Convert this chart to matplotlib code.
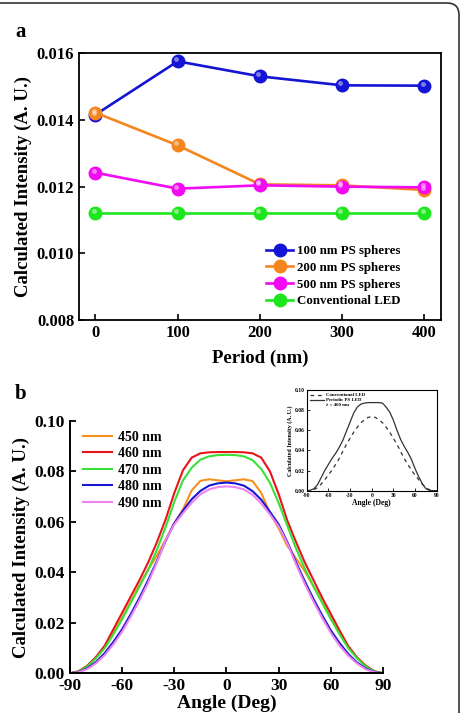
import numpy as np
import matplotlib
matplotlib.use("Agg")
import matplotlib.pyplot as plt
import matplotlib.patches as mpatches
from matplotlib.transforms import offset_copy
from matplotlib.lines import Line2D

plt.rcParams['font.family'] = ['Liberation Serif', 'DejaVu Serif']
plt.rcParams['font.weight'] = 'bold'
plt.rcParams['axes.labelweight'] = 'bold'
plt.rcParams['axes.unicode_minus'] = False

#%% data, panel a
period = [0, 100, 200, 300, 400]
ps100 = [0.01416, 0.01576, 0.01531, 0.01504, 0.01503]
ps200 = [0.01422, 0.01324, 0.01207, 0.01204, 0.01190]
ps500 = [0.01242, 0.01194, 0.01204, 0.01200, 0.01198]
conv = [0.01120, 0.01120, 0.01120, 0.01120, 0.01120]

#%% data, panel b (read every 5 deg)
angle = [-90, -85, -80, -75, -70, -65, -60, -55, -50, -45, -40, -35, -30, -25, -20, -15, -10, -5,
         0, 5, 10, 15, 20, 25, 30, 35, 40, 45, 50, 55, 60, 65, 70, 75, 80, 85, 90]
nm450 = [0, 0.0008, 0.003, 0.0063, 0.0105, 0.016, 0.022, 0.0285, 0.035, 0.0412, 0.0466, 0.053, 0.0595,
         0.065, 0.0725, 0.0763, 0.0769, 0.0765, 0.0761, 0.0765, 0.0769, 0.0762, 0.0715, 0.0635,
         0.0575, 0.0505, 0.0455, 0.0405, 0.0345, 0.0282, 0.0218, 0.016, 0.0105, 0.0063, 0.003, 0.0008, 0]
nm460 = [0, 0.0008, 0.003, 0.0065, 0.011, 0.0175, 0.024, 0.0305, 0.037, 0.044, 0.052, 0.061, 0.0715,
         0.0805, 0.0855, 0.0872, 0.0876, 0.0877, 0.0877, 0.0877, 0.0876, 0.0872, 0.0855, 0.0800,
         0.0710, 0.0605, 0.0520, 0.0440, 0.0370, 0.0300, 0.0235, 0.0170, 0.0108, 0.0063, 0.003, 0.0008, 0]
nm470 = [0, 0.0007, 0.0027, 0.006, 0.010, 0.0155, 0.0215, 0.028, 0.0345, 0.041, 0.049, 0.058, 0.068,
         0.0765, 0.0815, 0.0847, 0.0860, 0.0865, 0.0866, 0.0865, 0.0860, 0.0845, 0.0810, 0.0755,
         0.0675, 0.0585, 0.0495, 0.0415, 0.0345, 0.0280, 0.0215, 0.0155, 0.010, 0.006, 0.0027, 0.0007, 0]
nm480 = [0, 0.0005, 0.002, 0.0045, 0.008, 0.0125, 0.0175, 0.0235, 0.030, 0.037, 0.0445, 0.0525, 0.0595,
         0.0645, 0.069, 0.0723, 0.0744, 0.0753, 0.0756, 0.0753, 0.0744, 0.0722, 0.0688, 0.0640,
         0.0590, 0.0520, 0.0440, 0.0365, 0.0295, 0.0230, 0.0170, 0.0120, 0.0077, 0.0043, 0.0019, 0.0005, 0]
nm490 = [0, 0.0004, 0.0017, 0.004, 0.0072, 0.0115, 0.0165, 0.0225, 0.029, 0.036, 0.044, 0.0528, 0.059,
         0.0635, 0.0676, 0.0710, 0.0729, 0.0738, 0.0741, 0.0738, 0.0729, 0.0708, 0.0673, 0.0630,
         0.0582, 0.0515, 0.0432, 0.0355, 0.0285, 0.0220, 0.0160, 0.0110, 0.0070, 0.0039, 0.0016, 0.0004, 0]

#%% inset data
conv_led = [0, 0, 0.001, 0.003, 0.0065, 0.011, 0.0155, 0.0205, 0.026, 0.032, 0.039, 0.046, 0.052,
            0.058, 0.063, 0.0675, 0.0705, 0.0728, 0.0735, 0.0728, 0.0705, 0.0675, 0.063, 0.058,
            0.052, 0.046, 0.039, 0.032, 0.026, 0.0205, 0.0155, 0.011, 0.0065, 0.003, 0.001, 0, 0]
ps_led = [0, 0.0005, 0.002, 0.006, 0.013, 0.020, 0.026, 0.032, 0.037, 0.043, 0.050, 0.059, 0.068,
          0.077, 0.083, 0.086, 0.087, 0.0875, 0.0875, 0.0875, 0.0875, 0.087, 0.083, 0.078,
          0.070, 0.060, 0.051, 0.044, 0.038, 0.031, 0.022, 0.014, 0.007, 0.002, 0.0003, 0, 0]

fig = plt.figure(figsize=(4.61, 7.13), dpi=100)

#%% panel a
ax1 = fig.add_axes([0.1714, 0.5512, 0.7846, 0.374])
series_a = [(ps100, '#1414d4', '100 nm PS spheres'),
            (ps200, '#f5861f', '200 nm PS spheres'),
            (ps500, '#f20af2', '500 nm PS spheres'),
            (conv, '#1ee61e', 'Conventional LED')]
hl = offset_copy(ax1.transData, fig=fig, x=-1.2, y=1.5, units='points')
for vals, c, lab in series_a:
    ax1.plot(period, vals, '-o', color=c, lw=1.9, ms=9, mec=c, label=lab, zorder=3)
    ax1.plot(period, vals, 'o', color='white', alpha=0.45, ms=3.5, mec='none',
             transform=hl, zorder=4)
ax1.set_xlim(-20, 420)
ax1.set_ylim(0.008, 0.016)
ax1.set_xticks(period)
ax1.set_yticks([0.008, 0.010, 0.012, 0.014, 0.016])
ax1.set_yticklabels(['0.008', '0.010', '0.012', '0.014', '0.016'])
ax1.tick_params(direction='in', labelsize=12, width=1.2, length=4)
for s in ax1.spines.values():
    s.set_linewidth(1.3)
ax1.set_xlabel('Period (nm)', fontsize=13.5, labelpad=6)
ax1.set_ylabel('Calculated Intensity (A. U.)', fontsize=13.5, labelpad=3)
ax1.legend(loc='lower right', frameon=False, fontsize=9.3, handlelength=2.1,
           labelspacing=0.35, handletextpad=0.3, borderaxespad=0.6,
           bbox_to_anchor=(0.925, 0.0))
fig.text(0.033, 0.955, 'a', fontsize=15, fontweight='bold', va='center')

#%% panel b
ax2 = fig.add_axes([0.1518, 0.0557, 0.679, 0.3538])
series_b = [(nm450, '#f7901e', '450 nm'),
            (nm460, '#e8141c', '460 nm'),
            (nm470, '#38e038', '470 nm'),
            (nm480, '#1818d0', '480 nm'),
            (nm490, '#ee84ee', '490 nm')]
for vals, c, lab in series_b:
    ax2.plot(angle, vals, color=c, lw=1.5, label=lab)
ax2.set_xlim(-90, 90)
ax2.set_ylim(0, 0.10)
ax2.set_xticks([-90, -60, -30, 0, 30, 60, 90])
ax2.set_yticks([0.00, 0.02, 0.04, 0.06, 0.08, 0.10])
ax2.set_yticklabels(['0.00', '0.02', '0.04', '0.06', '0.08', '0.10'])
ax2.spines['top'].set_visible(False)
ax2.spines['right'].set_visible(False)
for s in ax2.spines.values():
    s.set_linewidth(1.4)
ax2.tick_params(direction='in', labelsize=12.5, width=1.3, length=4)
ax2.tick_params(axis='x', pad=3.5)
ax2.set_xlabel('Angle (Deg)', fontsize=14, labelpad=0.5)
ax2.set_ylabel('Calculated Intensity (A. U.)', fontsize=13.5, labelpad=3)
ax2.legend(loc='upper left', frameon=False, fontsize=10, handlelength=2.1,
           labelspacing=0.25, handletextpad=0.4, borderaxespad=0.3,
           bbox_to_anchor=(0.01, 1.0))
fig.text(0.033, 0.447, 'b', fontsize=15, fontweight='bold', va='center')

#%% inset
ax3 = fig.add_axes([0.6653, 0.3118, 0.282, 0.1412])
ax3.plot(angle, conv_led, '--', color='#333333', lw=0.9, dashes=(3, 3), label='Conventional LED')
ax3.plot(angle, ps_led, '-', color='#333333', lw=0.9, label='Periodic PS LED')
ax3.set_xlim(-90, 90)
ax3.set_ylim(0, 0.10)
ax3.set_xticks([-90, -60, -30, 0, 30, 60, 90])
ax3.set_yticks([0.00, 0.02, 0.04, 0.06, 0.08, 0.10])
ax3.set_yticklabels(['0.00', '0.02', '0.04', '0.06', '0.08', '0.10'])
ax3.tick_params(direction='in', labelsize=4, width=0.6, length=2, pad=1.5)
for s in ax3.spines.values():
    s.set_linewidth(0.8)
ax3.set_xlabel('Angle (Deg)', fontsize=5.5, labelpad=1)
ax3.set_ylabel('Calculated Intensity (A. U.)', fontsize=4.3, labelpad=1.5)
h1, l1 = ax3.get_legend_handles_labels()
h1.append(Line2D([], [], color='none'))
l1.append('\u03bb = 460 nm')
ax3.legend(h1, l1, loc='upper left', frameon=False, fontsize=3.5, handlelength=3,
           labelspacing=0.1, handletextpad=0.3, borderaxespad=0.2)

#%% rounded frame
frame = mpatches.FancyBboxPatch((-0.3, -0.3), 4.89, 7.40,
                                boxstyle='round,pad=0,rounding_size=0.12',
                                transform=fig.dpi_scale_trans, fill=False,
                                ec='#333333', lw=1.2)
fig.add_artist(frame)

fig.savefig('out.png', dpi=100)
